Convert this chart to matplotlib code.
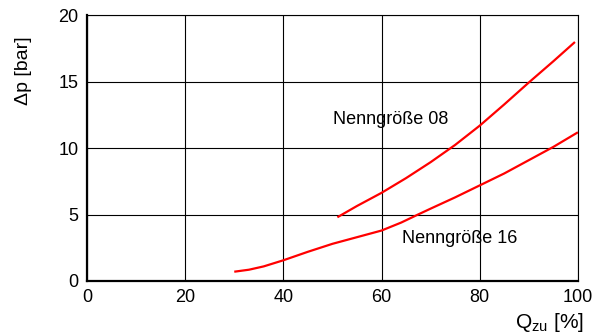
import matplotlib.pyplot as plt

# curve data
q_08 = [51, 55, 60, 65, 70, 75, 80, 85, 90, 95, 99.4]
dp_08 = [4.8, 5.65, 6.64, 7.75, 8.95, 10.25, 11.7, 13.3, 14.95, 16.55, 18.0]
q_16 = [30, 33, 36, 40, 45, 50, 55, 60, 64, 67.4, 70, 75, 80, 85, 90, 95, 100]
dp_16 = [0.7, 0.85, 1.1, 1.56, 2.2, 2.8, 3.3, 3.8, 4.4, 5.0, 5.45, 6.3, 7.2, 8.1, 9.1, 10.1, 11.2]

plt.rcParams['font.family'] = ['Liberation Sans', 'DejaVu Sans']

fig = plt.figure(figsize=(5.97, 3.36), dpi=100)
ax = fig.add_axes([0.1457, 0.1637, 0.8223, 0.7903])

ax.plot(q_08, dp_08, color='#ff0000', lw=1.6, solid_capstyle='butt')
ax.plot(q_16, dp_16, color='#ff0000', lw=1.6, solid_capstyle='butt')

ax.set_xlim(0, 100)
ax.set_ylim(0, 20)
ax.set_xticks([0, 20, 40, 60, 80, 100])
ax.set_yticks([0, 5, 10, 15, 20])
ax.grid(True, color='black', lw=0.8)
ax.tick_params(length=0, labelsize=13, pad=6)
for s in ['left', 'bottom']:
    ax.spines[s].set_linewidth(1.6)
for s in ['top', 'right']:
    ax.spines[s].set_linewidth(0.8)

ax.text(50.1, 12.15, 'Nenngröße 08', fontsize=13, va='center')
ax.text(64.1, 3.17, 'Nenngröße 16', fontsize=13, va='center')

fig.text(0.04, 0.79, 'Δp [bar]', rotation=90, fontsize=14, ha='center', va='center')
fig.text(0.978, 0.04, r'Q$_{\mathregular{zu}}$ [%]', fontsize=15, ha='right', va='center')

fig.savefig('out.png', dpi=100)
